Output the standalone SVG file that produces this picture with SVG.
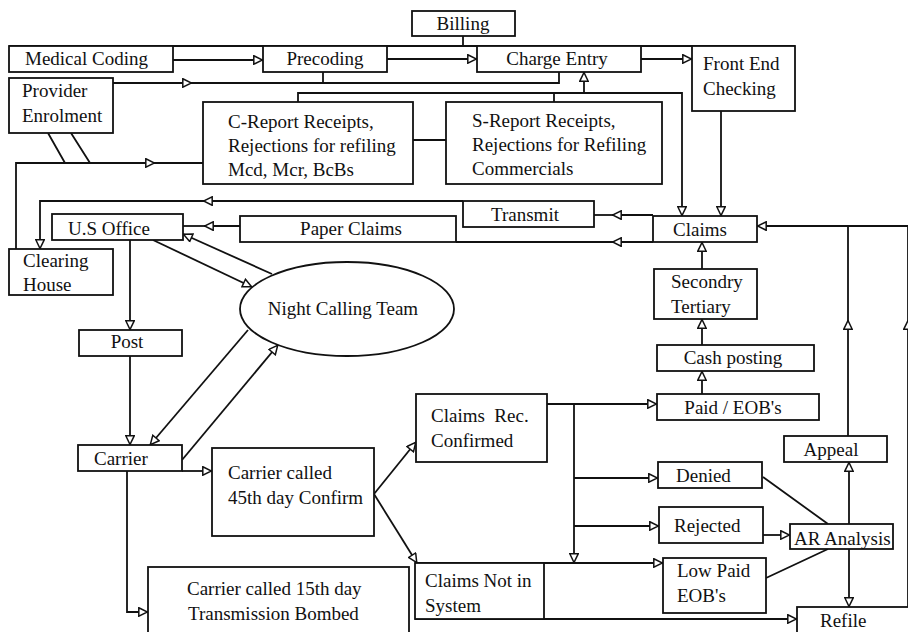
<svg xmlns="http://www.w3.org/2000/svg" width="908" height="632" viewBox="0 0 908 632">
<defs>
<marker id="arr" viewBox="0 0 10 10" refX="10" refY="5" markerWidth="11" markerHeight="10" markerUnits="userSpaceOnUse" orient="auto">
<path d="M0.8,0.8 L9.5,5 L0.8,9.2 Z" fill="#fff" stroke="#111" stroke-width="1.5"/>
</marker>
</defs>
<style>
rect, ellipse { fill: #fff; stroke: #111; stroke-width: 1.8; }
text { font-family: "Liberation Serif", "Times New Roman", serif; font-size: 19px; fill: #111; }
.c path { fill: none; stroke: #111; stroke-width: 1.8; }
.a { marker-end: url(#arr); }
</style>
<rect x="0" y="0" width="908" height="632" style="fill:#fff;stroke:none"/>

<g class="c" id="connectors">
<path d="M9,46 H795"/>
<path d="M463,36 V46"/>
<path class="a" d="M173,60 H263"/>
<path class="a" d="M387,59 H477"/>
<path class="a" d="M641,59 H692"/>
<path class="a" d="M113,83 H192"/>
<path d="M190,83 H559 V72"/>
<path d="M323,72 V83"/>
<path class="a" d="M298,102 V93 H682 V216"/>
<path d="M554,102 V93"/>
<path class="a" d="M584,93 V72"/>
<path class="a" d="M721,111 V216"/>
<path d="M48,133 L65,163 M71,133 L90,163"/>
<path class="a" d="M16,249 V163 H155"/>
<path d="M153,163 H203"/>
<path d="M413,140 H446"/>
<path class="a" d="M463,201 H203"/>
<path class="a" d="M205,201 H40 V249"/>
<path class="a" d="M240,226 H204"/>
<path d="M206,226 H183"/>
<path class="a" d="M653,215 H612"/>
<path d="M614,215 H594"/>
<path class="a" d="M653,242 H612"/>
<path d="M614,242 H456"/>
<path class="a" d="M908,226 H757"/>
<path class="a" d="M848,436 V320"/>
<path d="M848,322 V226"/>
<path class="a" d="M908,632 V320"/>
<path d="M908,322 V226"/>
<path class="a" d="M702,269 V242"/>
<path class="a" d="M702,345 V319"/>
<path class="a" d="M702,394 V371"/>
<path class="a" d="M547,404 H657"/>
<path class="a" d="M574,404 V563"/>
<path class="a" d="M574,478 H658"/>
<path class="a" d="M574,526 H659"/>
<path class="a" d="M415,563 H663"/>
<path class="a" d="M415,619 H797"/>
<path class="a" d="M763,535 H790"/>
<path d="M763,477 L828,524 M766,578 L828,549"/>
<path class="a" d="M849,524 V462"/>
<path class="a" d="M849,549 V607"/>
<path class="a" d="M374,494 L416,442"/>
<path class="a" d="M374,494 L417,563"/>
<path class="a" d="M182,471 H212"/>
<path class="a" d="M127,471 V612 H148"/>
<path class="a" d="M130,240 V330"/>
<path class="a" d="M130,356 V445"/>
<path class="a" d="M153,240 L252,287"/>
<path class="a" d="M272,274 L183,234"/>
<path class="a" d="M248,330 L150,445"/>
<path class="a" d="M182,460 L278,345"/>
</g>

<g id="billing"><rect x="412" y="11" width="103" height="25"/><text x="463" y="30" text-anchor="middle">Billing</text></g>
<g id="medical-coding"><rect x="9" y="46" width="164" height="26"/><text x="25" y="65">Medical Coding</text></g>
<g id="precoding"><rect x="263" y="46" width="124" height="26"/><text x="325" y="65" text-anchor="middle">Precoding</text></g>
<g id="charge-entry"><rect x="477" y="46" width="164" height="26"/><text x="557" y="65" text-anchor="middle">Charge Entry</text></g>
<g id="front-end-checking"><rect x="692" y="46" width="103" height="65"/><text x="703" y="70">Front End</text><text x="703" y="95">Checking</text></g>
<g id="provider-enrolment"><rect x="9" y="78" width="104" height="55"/><text x="22" y="97">Provider</text><text x="22" y="122">Enrolment</text></g>
<g id="c-report"><rect x="203" y="102" width="210" height="82"/><text x="228" y="128">C-Report Receipts,</text><text x="228" y="152">Rejections for refiling</text><text x="228" y="176">Mcd, Mcr, BcBs</text></g>
<g id="s-report"><rect x="446" y="102" width="216" height="82"/><text x="472" y="127">S-Report Receipts,</text><text x="472" y="151">Rejections for Refiling</text><text x="472" y="175">Commercials</text></g>
<g id="transmit"><rect x="463" y="201" width="131" height="26"/><text x="525" y="221" text-anchor="middle">Transmit</text></g>
<g id="us-office"><rect x="52" y="214" width="131" height="26"/><text x="68" y="235">U.S Office</text></g>
<g id="paper-claims"><rect x="240" y="216" width="216" height="26"/><text x="351" y="235" text-anchor="middle">Paper Claims</text></g>
<g id="claims"><rect x="653" y="216" width="104" height="26"/><text x="700" y="236" text-anchor="middle">Claims</text></g>
<g id="clearing-house"><rect x="9" y="249" width="104" height="46"/><text x="23" y="267">Clearing</text><text x="23" y="291">House</text></g>
<g id="night-calling-team"><ellipse cx="347" cy="309" rx="107" ry="47"/><text x="343" y="315" text-anchor="middle">Night Calling Team</text></g>
<g id="secondry-tertiary"><rect x="654" y="269" width="103" height="50"/><text x="671" y="288">Secondry</text><text x="671" y="313">Tertiary</text></g>
<g id="post"><rect x="79" y="330" width="103" height="26"/><text x="127" y="348" text-anchor="middle">Post</text></g>
<g id="cash-posting"><rect x="657" y="345" width="157" height="26"/><text x="733" y="364" text-anchor="middle">Cash posting</text></g>
<g id="paid-eobs"><rect x="657" y="394" width="162" height="26"/><text x="733" y="414" text-anchor="middle">Paid / EOB's</text></g>
<g id="claims-rec-confirmed"><rect x="416" y="394" width="131" height="68"/><text x="431" y="422" xml:space="preserve">Claims  Rec.</text><text x="431" y="447">Confirmed</text></g>
<g id="appeal"><rect x="784" y="436" width="103" height="26"/><text x="831" y="456" text-anchor="middle">Appeal</text></g>
<g id="carrier"><rect x="78" y="445" width="104" height="26"/><text x="94" y="465">Carrier</text></g>
<g id="carrier-45th"><rect x="212" y="448" width="162" height="88"/><text x="228" y="479">Carrier called</text><text x="228" y="504">45th day Confirm</text></g>
<g id="denied"><rect x="658" y="462" width="104" height="26"/><text x="676" y="482">Denied</text></g>
<g id="rejected"><rect x="659" y="507" width="104" height="36"/><text x="674" y="532">Rejected</text></g>
<g id="ar-analysis"><rect x="790" y="524" width="103" height="25"/><text x="794" y="545">AR Analysis</text></g>
<g id="low-paid-eobs"><rect x="663" y="558" width="103" height="55"/><text x="677" y="577">Low Paid</text><text x="677" y="602">EOB's</text></g>
<g id="claims-not-in-system"><rect x="415" y="563" width="129" height="56"/><text x="425" y="587">Claims Not in</text><text x="425" y="612">System</text></g>
<g id="carrier-15th"><rect x="148" y="567" width="261" height="75"/><text x="187" y="595">Carrier called 15th day</text><text x="188" y="620">Transmission Bombed</text></g>
<g id="refile"><rect x="797" y="607" width="120" height="35"/><text x="820" y="627">Refile</text></g>
</svg>
